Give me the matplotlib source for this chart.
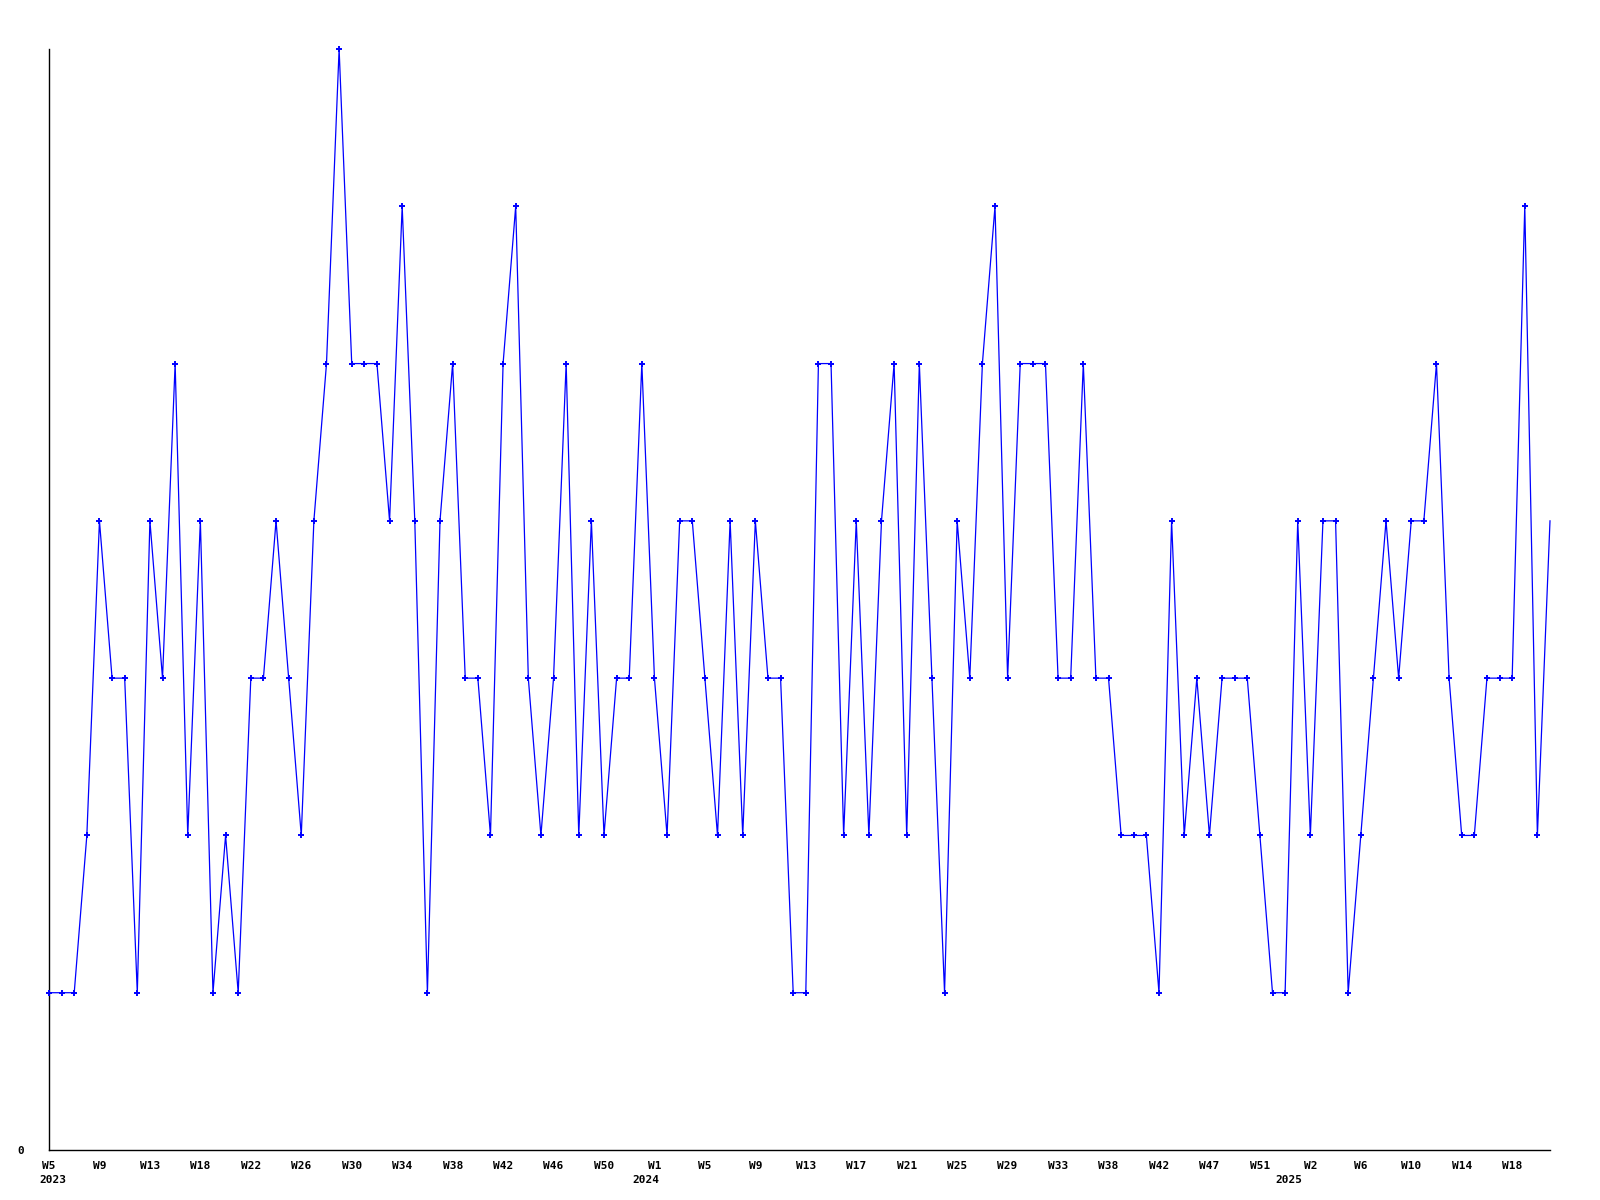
import matplotlib
matplotlib.use("Agg")
import matplotlib.pyplot as plt

# weekly values, 2023 W5 onward
values = [
    1, 1, 1, 2, 4, 3, 3, 1, 4, 3, 5, 2, 4, 1, 2, 1, 3, 3, 4, 3,
    2, 4, 5, 7, 5, 5, 5, 4, 6, 4, 1, 4, 5, 3, 3, 2, 5, 6, 3, 2,
    3, 5, 2, 4, 2, 3, 3, 5, 3, 2, 4, 4, 3, 2, 4, 2, 4, 3, 3, 1,
    1, 5, 5, 2, 4, 2, 4, 5, 2, 5, 3, 1, 4, 3, 5, 6, 3, 5, 5, 5,
    3, 3, 5, 3, 3, 2, 2, 2, 1, 4, 2, 3, 2, 3, 3, 3, 2, 1, 1, 4,
    2, 4, 4, 1, 2, 3, 4, 3, 4, 4, 5, 3, 2, 2, 3, 3, 3, 6, 2, 4,
]
week_labels = [
    "W5", "W9", "W13", "W18", "W22", "W26", "W30", "W34", "W38", "W42",
    "W46", "W50", "W1", "W5", "W9", "W13", "W17", "W21", "W25", "W29",
    "W33", "W38", "W42", "W47", "W51", "W2", "W6", "W10", "W14", "W18",
]
years = ["2023", "2024", "2025"]

font = "DejaVu Sans Mono"
x = list(range(len(values)))

fig = plt.figure(figsize=(16, 12), dpi=100)
ax = fig.add_axes([49 / 1600, 1 - 1150 / 1200, 1501 / 1600, 1101 / 1200])

# the current (unfinished) week has no marker
ax.plot(x, values, color="#0000ff", linewidth=0.9, marker="+",
        markersize=4, markeredgewidth=1.4, markevery=slice(0, len(values) - 1),
        clip_on=False, zorder=3)

ax.set_xlim(0, len(values) - 1)
ax.set_ylim(0, 7)

for side in ("top", "right"):
    ax.spines[side].set_visible(False)
for side in ("left", "bottom"):
    ax.spines[side].set_color("black")
    ax.spines[side].set_linewidth(1.0)

ax.set_xticks(x[::4])
ax.set_xticklabels(week_labels, fontfamily=font, fontweight="bold", fontsize=8)
ax.set_yticks([0])
ax.set_yticklabels(["0"], fontfamily=font, fontweight="bold", fontsize=8)
ax.tick_params(axis="x", length=0, pad=8)
ax.tick_params(axis="y", length=0, pad=18)

# year captions under the first week of each year
for yr, xi, ha in zip(years, [-0.8, 47.3, 98.3], ["left", "center", "center"]):
    ax.annotate(yr, xy=(xi, 0), xycoords=("data", "axes fraction"),
                xytext=(0, -18), textcoords="offset points",
                ha=ha, va="top", fontfamily=font, fontweight="bold", fontsize=8)

fig.savefig("out.png", dpi=100, facecolor="white")
